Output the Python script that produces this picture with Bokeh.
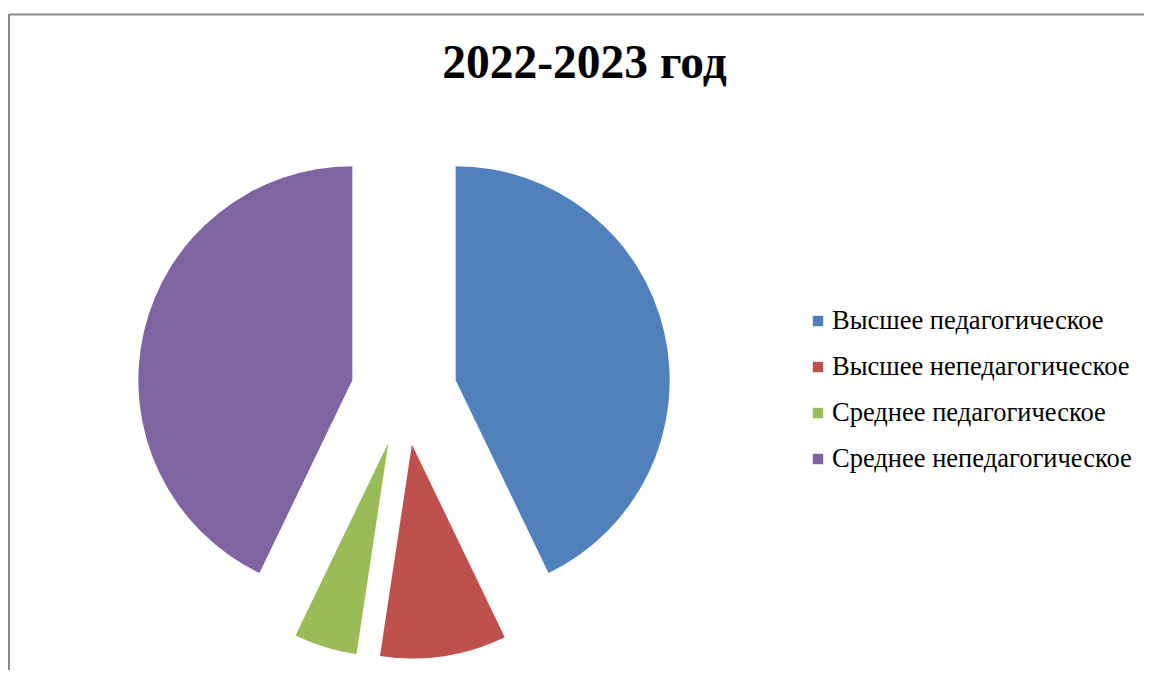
import math
from bokeh.plotting import figure
from bokeh.models import ColumnDataSource, Range1d, Legend, LegendItem
from bokeh.core.properties import value
from bokeh.embed import file_html
from bokeh.resources import INLINE

# ---- data ----
title_text = "2022-2023 год"
categories = ["Высшее педагогическое", "Высшее непедагогическое",
              "Среднее педагогическое", "Среднее непедагогическое"]
counts = [9, 2, 1, 9]
colors = ["#4F81BD", "#C0504D", "#9BBB59", "#8064A2"]

W, H = 1144, 670
p = figure(width=W, height=H, output_backend="svg", toolbar_location=None,
           x_range=Range1d(0, W), y_range=Range1d(0, H), min_border=0)
p.axis.visible = False
p.xgrid.visible = False
p.ygrid.visible = False
p.outline_line_color = None
p.background_fill_color = "white"
p.border_fill_color = "white"

# chart-area frame (extends past the window at right/bottom)
p.line(x=[8.5, 8.5, 1300], y=[-20, 656, 656], line_color="#898989", line_width=2)

# ---- exploded pie ----
cx, cy = 403.5, 278.5
radius = 214
explode = 53
total = sum(counts)
starts, ends, xs, ys = [], [], [], []
cum = 0.0
for c in counts:
    a0 = math.pi / 2 - 2 * math.pi * cum / total
    cum += c
    a1 = math.pi / 2 - 2 * math.pi * cum / total
    mid = (a0 + a1) / 2
    starts.append(a0)
    ends.append(a1)
    xs.append(cx + explode * math.cos(mid))
    ys.append(cy + explode * math.sin(mid))

src = ColumnDataSource(dict(x=xs, y=ys, start=starts, end=ends, color=colors, cat=categories))
r = p.wedge(x="x", y="y", radius=radius, start_angle="start", end_angle="end",
            direction="clock", fill_color="color", line_color=None, source=src)

# ---- title ----
p.text(x=[584], y=[609], text=[title_text], text_font=value("Liberation Serif"),
       text_font_style="bold", text_font_size="47.5px", text_align="center",
       text_baseline="alphabetic", text_color="black")

# ---- legend ----
items = [LegendItem(label=cat, renderers=[r], index=i) for i, cat in enumerate(categories)]
legend = Legend(items=items, location=(811, 196), orientation="vertical",
                glyph_width=13, glyph_height=13, label_height=30, spacing=15,
                label_standoff=8, padding=0, margin=0,
                label_text_font="Liberation Serif", label_text_font_size="26.5px",
                label_text_color="black",
                border_line_color=None, background_fill_alpha=0)
p.add_layout(legend)

open("out.html", "w").write(file_html(p, INLINE))
